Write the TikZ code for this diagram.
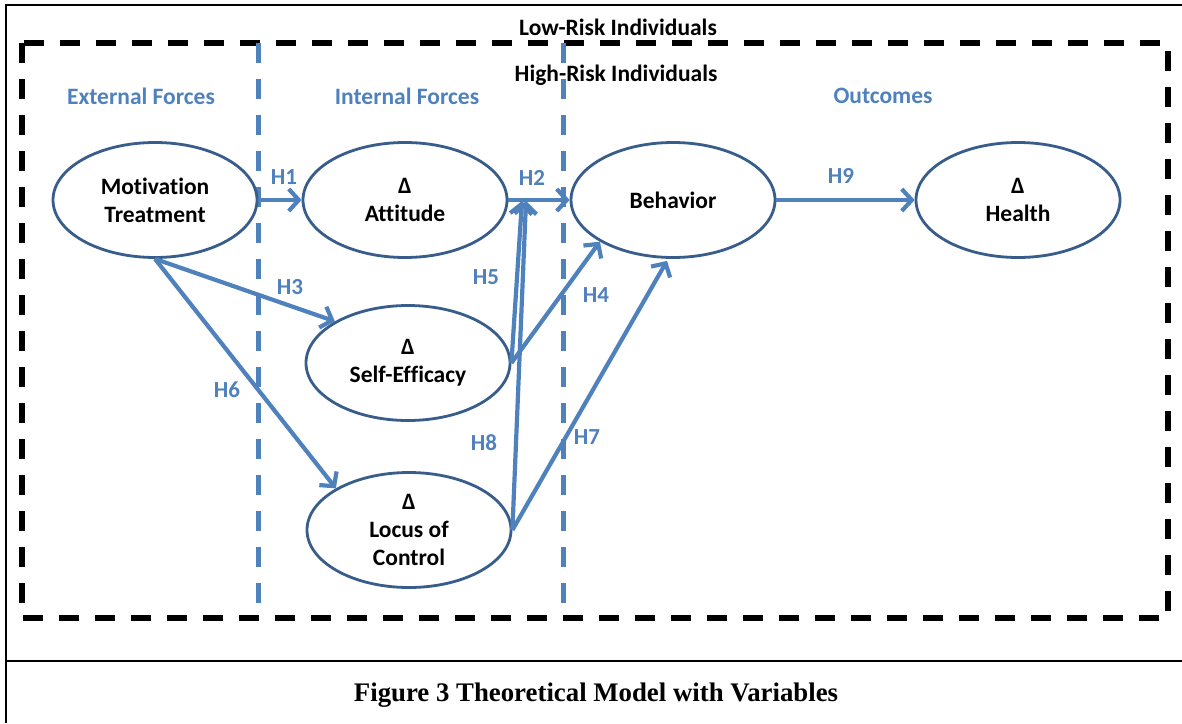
\documentclass[tikz,border=0pt]{standalone}
\usepackage{fontspec}
\setmainfont{Carlito}[Ligatures=NoCommon]
\newfontfamily\capfont{Liberation Serif}
\usetikzlibrary{arrows.meta,calc,shapes.geometric}
\definecolor{arrblue}{RGB}{79,129,189}
\definecolor{ellblue}{RGB}{56,93,138}
\tikzset{
  varnode/.style={ellipse, draw=ellblue, line width=2.8pt, fill=white,
    minimum width=204pt, minimum height=115pt, inner sep=0pt, align=center,
    font=\bfseries\fontsize{23.5}{28}\selectfont},
  hyp/.style={draw=arrblue, line width=4.2pt,
    -{Straight Barb[length=10pt,width=22pt]}},
  hlabel/.style={text=arrblue, font=\bfseries\fontsize{23}{26}\selectfont, inner sep=0pt},
  grouplabel/.style={text=arrblue, font=\bfseries\fontsize{23.5}{26}\selectfont, inner sep=0pt},
  risklabel/.style={text=black, font=\bfseries\fontsize{23.5}{26}\selectfont, inner sep=0pt},
  zoneline/.style={draw=arrblue, line width=5pt, dash pattern=on 20pt off 16pt},
  riskbox/.style={draw=black, line width=5.5pt, dash pattern=on 20pt off 16pt},
  frameline/.style={draw=black, line width=2.5pt}
}
\begin{document}
\begin{tikzpicture}[x=1pt,y=-1pt]
\useasboundingbox (0,0) rectangle (1182,723);
% outer frame
\draw[frameline] (6,723) -- (6,5) -- (1182,5);
\draw[frameline] (6,661) -- (1182,661);
% dashed boxes
\draw[riskbox] (22,43) rectangle (1168,618);
\draw[zoneline] (258,43) -- (258,610);
\draw[zoneline] (563,43) -- (563,610);
% labels
\node[risklabel] (low) at (618,27) {Low-Risk Individuals};
\node[risklabel] (high) at (616,75) {High-Risk Individuals};
\node[grouplabel] (ext) at (141,96) {External Forces};
\node[grouplabel] (int) at (407,96) {Internal Forces};
\node[grouplabel] (out) at (883,96) {Outcomes};
% variables
\node[varnode] (mot) at (155,200) {Motivation\\Treatment};
\node[varnode] (att) at (405,200) {Δ\\Attitude};
\node[varnode] (self) at (408,363) {Δ\\Self-Efficacy};
\node[varnode] (loc) at (409,530) {Δ\\Locus of\\Control};
\node[varnode] (beh) at (673,200) {Behavior};
\node[varnode] (hea) at (1018,200) {Δ\\Health};
% junction coordinates on H2
\coordinate (j5) at (522,201);
\coordinate (j8) at (526,201);
% connectors
\draw[hyp] (mot.east) -- (att.west);
\draw[hyp] (att.east) -- (beh.west);
\draw[hyp] (mot.south) -- (self.north west);
\draw[hyp] (mot.south) -- (loc.north west);
\draw[hyp] (self.east) -- (beh.south west);
\draw[hyp] (loc.east) -- ($(beh.south)+(-6,2)$);
\draw[hyp] (self.east) -- (j5);
\draw[hyp] (loc.east) -- (j8);
\draw[hyp] (beh.east) -- (hea.west);
% hypothesis labels
\node[hlabel] (h1) at (284,177) {H1};
\node[hlabel] (h2) at (532,178) {H2};
\node[hlabel] (h3) at (290,287) {H3};
\node[hlabel] (h4) at (596,295) {H4};
\node[hlabel] (h5) at (486,277) {H5};
\node[hlabel] (h6) at (227,390) {H6};
\node[hlabel] (h7) at (587,437) {H7};
\node[hlabel] (h8) at (484,443) {H8};
\node[hlabel] (h9) at (841,176) {H9};
% caption
\node[font=\capfont\bfseries\fontsize{26.8}{30}\selectfont, inner sep=0pt] (cap) at (596,695) {Figure 3 Theoretical Model with Variables};
\end{tikzpicture}
\end{document}
